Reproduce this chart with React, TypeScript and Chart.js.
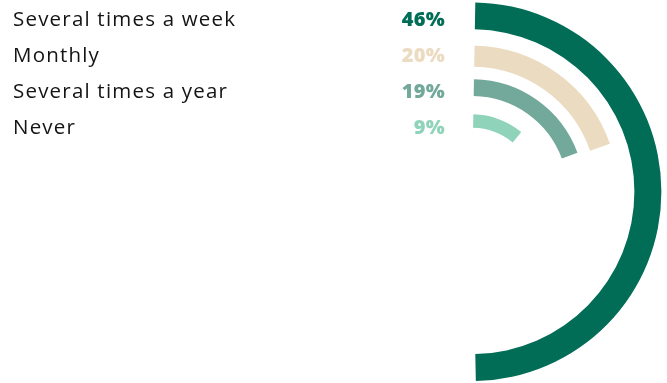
import React, { useEffect, useRef } from "react";
import { Chart, registerables } from "chart.js";

Chart.register(...registerables);

// Data
const categories = ["Several times a week", "Monthly", "Several times a year", "Never"];
const shareLabels = [46, 20, 19, 9]; // printed values (%)
const arcShares = [49.4, 19.4, 19.1, 10.7]; // arc length as drawn (% of full circle)
const ringColors = ["#016D56", "#EBDBC0", "#72A99A", "#8FD3BA"];
const ringWeights = [27, 21, 16.6, 13.4];
const gapWeights = [16.4, 12.6, 18.4];

const labelPlugin = {
  id: "sideLabels",
  afterDraw(chart: any) {
    const ctx = chart.ctx as CanvasRenderingContext2D;
    ctx.save();
    categories.forEach((cat, i) => {
      const y = 25.5 + 36 * i;
      ctx.textBaseline = "alphabetic";
      ctx.textAlign = "left";
      ctx.font = '500 20.5px "Open Sans", "Noto Sans", sans-serif';
      (ctx as any).letterSpacing = "1.2px";
      ctx.fillStyle = "#141414";
      ctx.fillText(cat, 13, y);
      ctx.textAlign = "right";
      ctx.font = '800 20px "Open Sans", "Noto Sans", sans-serif';
      (ctx as any).letterSpacing = "0.3px";
      ctx.fillStyle = ringColors[i];
      ctx.fillText(shareLabels[i] + "%", 445, y);
    });
    ctx.restore();
  },
};

export default function App() {
  const ref = useRef<HTMLCanvasElement | null>(null);
  useEffect(() => {
    if (!ref.current) return;
    const datasets: any[] = [];
    arcShares.forEach((v, i) => {
      datasets.push({
        data: [v, 100 - v],
        backgroundColor: [ringColors[i], "rgba(0,0,0,0)"],
        borderWidth: 0,
        hoverOffset: 0,
        offset: 0,
        weight: ringWeights[i],
      });
      if (i < gapWeights.length) {
        datasets.push({
          data: [100],
          backgroundColor: ["rgba(0,0,0,0)"],
          borderWidth: 0,
          hoverOffset: 0,
          offset: 0,
          weight: gapWeights[i],
        });
      }
    });
    const chart = new Chart(ref.current, {
      type: "doughnut",
      data: { labels: ["value", "rest"], datasets },
      options: {
        animation: false,
        responsive: true,
        maintainAspectRatio: false,
        devicePixelRatio: 1,
        rotation: 1,
        circumference: 360,
        cutout: 64,
        layout: { padding: { left: 282.6, right: 5.6, top: 2.35, bottom: 1.85 } },
        plugins: { legend: { display: false }, tooltip: { enabled: false } },
        events: [],
      } as any,
      plugins: [labelPlugin],
    });
    return () => chart.destroy();
  }, []);
  return (
    <div style={{ position: "absolute", left: 0, top: 0, width: 667, height: 383, background: "#fff" }}>
      <canvas ref={ref} />
    </div>
  );
}
